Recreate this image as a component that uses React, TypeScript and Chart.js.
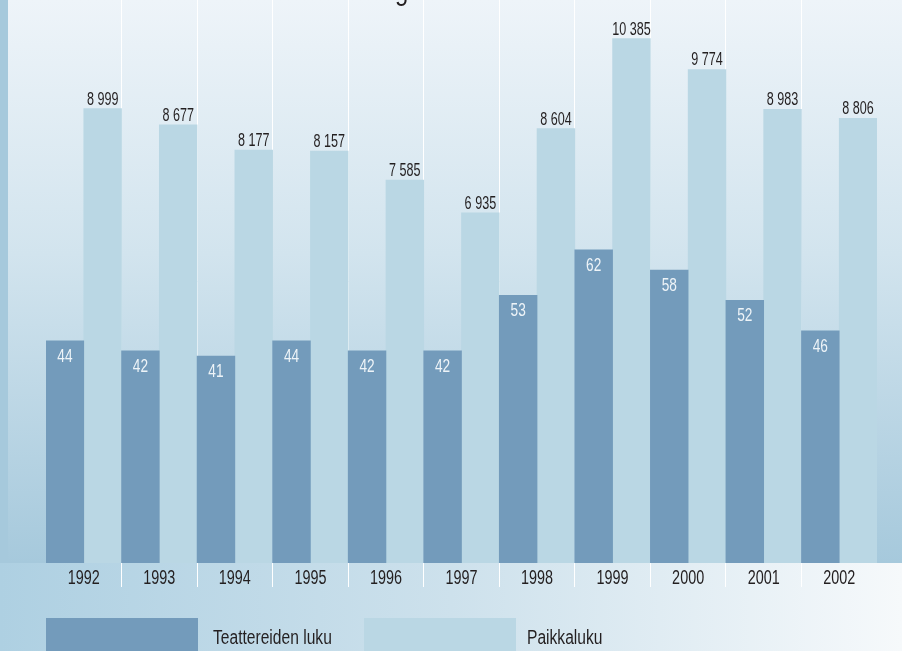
import React, { useEffect, useRef } from "react";
import { Chart, registerables } from "chart.js";

Chart.register(...registerables);

const years = ["1992", "1993", "1994", "1995", "1996", "1997", "1998", "1999", "2000", "2001", "2002"];
const theatreCount = [44, 42, 41, 44, 42, 42, 53, 62, 58, 52, 46];
const seatCount = [8999, 8677, 8177, 8157, 7585, 6935, 8604, 10385, 9774, 8983, 8806];
const seriesNames = ["Teattereiden luku", "Paikkaluku"];
const titleText = "Helsingin teatterit";

const FONT = "'Liberation Sans', Arial, sans-serif";
const DARK = "#739bbb";
const LIGHT = "#bad7e4";
const TEXT = "#231f20";

const fmt = (v: number) => String(v).replace(/\B(?=(\d{3})+(?!\d))/g, " ");

function narrowText(
  ctx: CanvasRenderingContext2D,
  text: string,
  x: number,
  y: number,
  size: number,
  sx: number,
  align: CanvasTextAlign,
  color: string
) {
  ctx.save();
  ctx.translate(x, y);
  ctx.scale(sx, 1);
  ctx.font = `${size}px ${FONT}`;
  ctx.textAlign = align;
  ctx.textBaseline = "alphabetic";
  ctx.fillStyle = color;
  ctx.fillText(text, 0, 0);
  ctx.restore();
}

const backgroundPlugin = {
  id: "bgPlugin",
  beforeDraw(chart: any) {
    const { ctx, width, height, chartArea } = chart;
    const bottom = chartArea.bottom;
    ctx.save();
    const hg = ctx.createLinearGradient(0, 0, width, 0);
    hg.addColorStop(0, "#aed0e2");
    hg.addColorStop(0.5, "#cde1ec");
    hg.addColorStop(1, "#f6f9fb");
    ctx.fillStyle = hg;
    ctx.fillRect(0, 0, width, height);
    const vg = ctx.createLinearGradient(0, 0, 0, bottom);
    vg.addColorStop(0, "#eef4f9");
    vg.addColorStop(0.45, "#d2e4ee");
    vg.addColorStop(1, "#a6c9dc");
    ctx.fillStyle = vg;
    ctx.fillRect(8, 0, width - 8, bottom);
    ctx.fillStyle = "#a6c9dc";
    ctx.fillRect(0, 0, 8, bottom);
    ctx.restore();
  },
};

const labelsPlugin = {
  id: "labelsPlugin",
  afterDatasetsDraw(chart: any) {
    const { ctx } = chart;
    const m0 = chart.getDatasetMeta(0);
    m0.data.forEach((bar: any, i: number) => {
      narrowText(ctx, fmt(chart.data.datasets[0].data[i]), bar.x, bar.y + 21, 19, 0.72, "center", "#eef4f8");
    });
    const m1 = chart.getDatasetMeta(1);
    m1.data.forEach((bar: any, i: number) => {
      narrowText(ctx, fmt(chart.data.datasets[1].data[i]), bar.x, bar.y - 4, 17.5, 0.72, "center", TEXT);
    });
  },
  afterDraw(chart: any) {
    const { ctx, chartArea } = chart;
    // category tick labels, placed by the x scale
    const xs = chart.scales.x;
    chart.data.labels.forEach((lab: string, i: number) => {
      narrowText(ctx, lab, xs.getPixelForTick(i), chartArea.bottom + 21, 20, 0.72, "center", TEXT);
    });
    // legend
    const items = [
      { box: 46, text: 213 },
      { box: 364, text: 527 },
    ];
    chart.data.datasets.forEach((ds: any, i: number) => {
      ctx.save();
      ctx.fillStyle = ds.backgroundColor;
      ctx.fillRect(items[i].box, 618, 152, 40);
      ctx.restore();
      narrowText(ctx, ds.label, items[i].text, 644, 20, 0.78, "left", TEXT);
    });
    // title (mostly above the visible area)
    ctx.save();
    ctx.font = `30px ${FONT}`;
    const pre = ctx.measureText("Helsin").width * 0.8;
    ctx.restore();
    narrowText(ctx, titleText, 395 - pre, 0, 30, 0.8, "left", TEXT);
  },
};

export default function App() {
  const ref = useRef<HTMLCanvasElement>(null);
  useEffect(() => {
    if (!ref.current) return;
    const chart = new Chart(ref.current, {
      type: "bar",
      data: {
        labels: years,
        datasets: [
          {
            label: seriesNames[0],
            data: theatreCount,
            backgroundColor: DARK,
            yAxisID: "y",
            categoryPercentage: 1,
            barPercentage: 1,
          },
          {
            label: seriesNames[1],
            data: seatCount,
            backgroundColor: LIGHT,
            yAxisID: "y2",
            categoryPercentage: 1,
            barPercentage: 1,
          },
        ],
      },
      options: {
        responsive: false,
        animation: false,
        layout: { padding: { left: 46, right: 25, top: 0, bottom: 64 } },
        plugins: {
          legend: { display: false },
          tooltip: { enabled: false },
          title: { display: false },
        },
        scales: {
          x: {
            z: 1,
            offset: true,
            border: { display: false },
            grid: {
              offset: true,
              color: (c: any) => (c.index === undefined || c.index === 0 ? "rgba(0,0,0,0)" : "#ffffff"),
              lineWidth: 1,
              drawTicks: true,
              tickLength: 24,
            },
            ticks: { display: false },
            afterFit: (s: any) => {
              s.height = 24;
            },
          },
          y: { display: false, min: 0, max: 111.5 },
          y2: { display: false, min: 0, max: 11150 },
        },
      },
      plugins: [backgroundPlugin, labelsPlugin],
    });
    return () => chart.destroy();
  }, []);
  return (
    <div style={{ position: "absolute", left: 0, top: 0, width: 902, height: 651, overflow: "hidden" }}>
      <canvas ref={ref} width={902} height={651} style={{ display: "block" }} />
    </div>
  );
}
